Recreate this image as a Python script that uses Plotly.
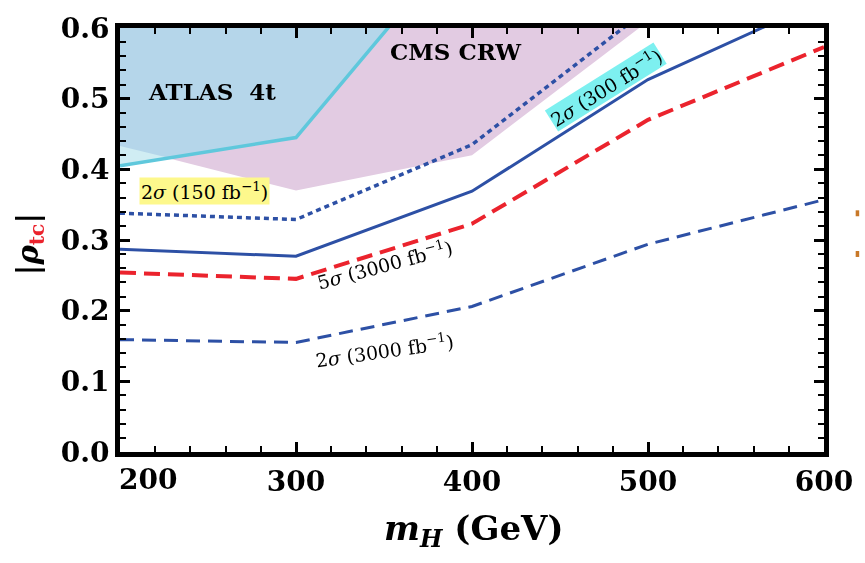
import plotly.graph_objects as go

# ---------------- data ----------------
mh = [200, 300, 400, 500, 600]

sig2_150 = [0.338, 0.329, 0.435, 0.627]          # dotted blue (to 500)
sig2_300 = [0.287, 0.277, 0.369, 0.527, 0.640]    # solid blue
sig5_3000 = [0.254, 0.245, 0.323, 0.470, 0.573]   # red dashed
sig2_3000 = [0.159, 0.155, 0.206, 0.294, 0.357]   # blue dashed

# exclusion regions
cms_x = [200, 300, 400, 495, 200]
cms_y = [0.433, 0.370, 0.420, 0.600, 0.600]
atlas_x = [200, 300, 352.5, 200]
atlas_y = [0.405, 0.445, 0.600, 0.600]
atlas_edge_x = [200, 300, 360]
atlas_edge_y = [0.405, 0.445, 0.623]
atlas_only_x = [200, 200, 228]
atlas_only_y = [0.405, 0.433, 0.416]

x_ticks = [300, 400, 500, 600]
y_ticks = [0.0, 0.1, 0.2, 0.3, 0.4, 0.5, 0.6]

BLUE = "rgb(45,80,165)"
RED = "rgb(235,35,45)"
FONT = "DejaVu Serif"

fig = go.Figure()

fig.add_trace(go.Scatter(x=cms_x, y=cms_y, mode="lines", fill="toself",
                         fillcolor="rgb(226,203,226)", line=dict(width=0),
                         hoverinfo="skip", showlegend=False))
fig.add_trace(go.Scatter(x=atlas_x, y=atlas_y, mode="lines", fill="toself",
                         fillcolor="rgb(181,214,234)", line=dict(width=0),
                         hoverinfo="skip", showlegend=False))
fig.add_trace(go.Scatter(x=atlas_only_x, y=atlas_only_y, mode="lines", fill="toself",
                         fillcolor="rgb(208,237,243)", line=dict(width=0),
                         hoverinfo="skip", showlegend=False))
fig.add_trace(go.Scatter(x=atlas_edge_x, y=atlas_edge_y, mode="lines",
                         line=dict(color="rgb(95,200,220)", width=3.5),
                         hoverinfo="skip", showlegend=False))

fig.add_trace(go.Scatter(x=mh[:4], y=sig2_150, mode="lines",
                         line=dict(color=BLUE, width=3.5, dash="5px,4px"),
                         showlegend=False))
fig.add_trace(go.Scatter(x=mh, y=sig2_300, mode="lines",
                         line=dict(color=BLUE, width=3), showlegend=False))
fig.add_trace(go.Scatter(x=mh, y=sig5_3000, mode="lines",
                         line=dict(color=RED, width=4, dash="16px,8px"),
                         showlegend=False))
fig.add_trace(go.Scatter(x=mh, y=sig2_3000, mode="lines",
                         line=dict(color=BLUE, width=3, dash="14px,8px"),
                         showlegend=False))

# invisible traces on the overlay axes (minor / major tick marks)
fig.add_trace(go.Scatter(x=[200, 600], y=[0, 0.6], mode="markers", opacity=0,
                         xaxis="x2", yaxis="y2", hoverinfo="skip", showlegend=False))
fig.add_trace(go.Scatter(x=[200, 600], y=[0, 0.6], mode="markers", opacity=0,
                         xaxis="x3", yaxis="y3", hoverinfo="skip", showlegend=False))

TICKFONT = dict(family=FONT, size=28, color="black", weight="bold")


def tick_axis(rng, tick0, dtick, length, width, overlay, anchor, side):
    return dict(range=rng, overlaying=overlay, anchor=anchor, side=side,
                tickmode="linear", tick0=tick0, dtick=dtick,
                showline=True, linewidth=5, linecolor="black", mirror="allticks",
                ticks="inside", ticklen=length, tickwidth=width, tickcolor="black",
                showticklabels=False, showgrid=False, zeroline=False)


fig.update_layout(
    xaxis=dict(range=[200, 600], tickmode="array", tickvals=x_ticks,
               ticktext=[str(v) for v in x_ticks],
               showline=True, linewidth=5, linecolor="black", mirror=True,
               ticks="outside", ticklen=0, tickcolor="rgba(0,0,0,0)",
               showgrid=False, zeroline=False, tickfont=TICKFONT),
    yaxis=dict(range=[0, 0.6], tickmode="array", tickvals=y_ticks, tickformat=".1f",
               showline=True, linewidth=5, linecolor="black", mirror=True,
               ticks="outside", ticklen=0, tickcolor="rgba(0,0,0,0)",
               showgrid=False, zeroline=False, tickfont=TICKFONT),
    xaxis2=tick_axis([200, 600], 200, 20, 6, 2, "x", "y2", "bottom"),
    yaxis2=tick_axis([0, 0.6], 0, 0.02, 6, 2, "y", "x2", "left"),
    xaxis3=tick_axis([200, 600], 200, 100, 10, 3, "x", "y3", "bottom"),
    yaxis3=tick_axis([0, 0.6], 0, 0.1, 10, 3, "y", "x3", "left"),
)

LBL = dict(family=FONT, size=19, color="black")
ann = []
# shifted "200" tick label
ann.append(dict(x=200, y=0, xref="x", yref="y", text="200", showarrow=False,
                xanchor="center", yanchor="top", xshift=28, yshift=-9,
                font=TICKFONT))
# axis titles
ann.append(dict(x=0.503, y=-0.185, xref="paper", yref="paper",
                xanchor="center", yanchor="middle",
                text="<i>m</i><sub><i>H</i></sub> (GeV)", showarrow=False,
                font=dict(family=FONT, size=34, color="black", weight="bold")))
ann.append(dict(x=-0.128, y=0.49, xref="paper", yref="paper", textangle=-90,
                xanchor="center", yanchor="middle",
                text="|<i>ρ</i><span style='color:rgb(235,35,45)'><sub>tc</sub></span>|",
                showarrow=False,
                font=dict(family=FONT, size=29, color="black", weight="bold")))
# region labels
ann.append(dict(x=0.13, y=0.85, xref="paper", yref="paper", text="ATLAS  4t",
                xanchor="center", yanchor="middle", showarrow=False,
                font=dict(family=FONT, size=23, color="black", weight="bold")))
ann.append(dict(x=0.477, y=0.945, xref="paper", yref="paper", text="CMS CRW",
                xanchor="center", yanchor="middle", showarrow=False,
                font=dict(family=FONT, size=23, color="black", weight="bold")))
# curve labels
ann.append(dict(x=0.12, y=0.615, xref="paper", yref="paper",
                xanchor="center", yanchor="middle",
                text="2<i>σ</i> (150 fb<sup>−1</sup>)", showarrow=False,
                bgcolor="rgb(253,248,140)", borderpad=1, font=LBL))
ann.append(dict(x=0.69, y=0.862, xref="paper", yref="paper", textangle=-32,
                xanchor="center", yanchor="middle",
                text="2<i>σ</i> (300 fb<sup>−1</sup>)", showarrow=False,
                bgcolor="rgb(125,240,240)", borderpad=0, font=LBL))
ann.append(dict(x=0.376, y=0.444, xref="paper", yref="paper", textangle=-15,
                xanchor="center", yanchor="middle",
                text="5<i>σ</i> (3000 fb<sup>−1</sup>)", showarrow=False, font=LBL))
ann.append(dict(x=0.376, y=0.24, xref="paper", yref="paper", textangle=-8,
                xanchor="center", yanchor="middle",
                text="2<i>σ</i> (3000 fb<sup>−1</sup>)", showarrow=False, font=LBL))

fig.update_layout(
    width=865, height=563,
    margin=dict(l=120, r=37, t=15, b=111),
    plot_bgcolor="white", paper_bgcolor="white",
    annotations=ann,
    shapes=[
        dict(type="rect", xref="paper", yref="paper", x0=1.045, x1=1.050,
             y0=0.556, y1=0.570, fillcolor="rgb(200,120,40)", line=dict(width=0)),
        dict(type="rect", xref="paper", yref="paper", x0=1.045, x1=1.050,
             y0=0.460, y1=0.474, fillcolor="rgb(200,120,40)", line=dict(width=0)),
    ],
)

fig.write_html("out.html")
